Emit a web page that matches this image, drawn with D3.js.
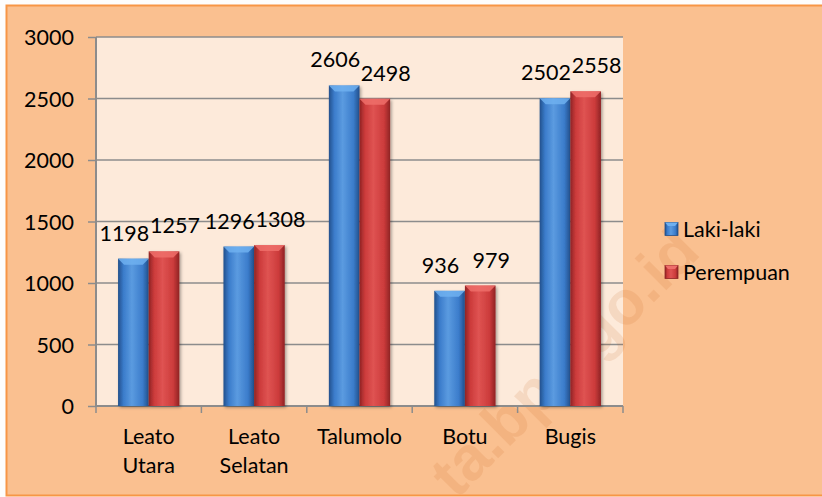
<!DOCTYPE html>
<html>
<head>
<meta charset="utf-8">
<script src="https://cdn.jsdelivr.net/npm/d3@7"></script>
<style>
  html, body { margin: 0; padding: 0; background: #ffffff; }
  svg { display: block; }
  text { font-family: Lato, "Noto Sans", sans-serif; fill: #000; }
</style>
</head>
<body>
<svg id="chart" width="822" height="497"></svg>
<script>
// ---- data ----
const categories = [["Leato", "Utara"], ["Leato", "Selatan"], ["Talumolo"], ["Botu"], ["Bugis"]];
const seriesNames = ["Laki-laki", "Perempuan"];
const lakiLaki = [1198, 1296, 2606, 936, 2502];
const perempuan = [1257, 1308, 2498, 979, 2558];
const yTicks = [0, 500, 1000, 1500, 2000, 2500, 3000];
const watermark = "ta.bps.go.id";

const seriesValues = [lakiLaki, perempuan];
const svg = d3.select("#chart");
const W = 822, H = 497;

// layout
const plot = { left: 96, right: 623, top: 37, bottom: 406 };
const fontSize = 21.5;

const defs = svg.append("defs");
const palettes = [
  { dark: "#22508c", mid: "#3b7ccb", light: "#5b9be0", bevel: "#6fb0f0" },
  { dark: "#8f2324", mid: "#cc3b3b", light: "#df5352", bevel: "#ee6e6a" }
];
palettes.forEach((p, i) => {
  const g = defs.append("linearGradient").attr("id", "grad" + i)
    .attr("x1", "0").attr("x2", "1").attr("y1", "0").attr("y2", "0");
  g.append("stop").attr("offset", "0%").attr("stop-color", p.dark);
  g.append("stop").attr("offset", "18%").attr("stop-color", p.mid);
  g.append("stop").attr("offset", "45%").attr("stop-color", p.light);
  g.append("stop").attr("offset", "80%").attr("stop-color", p.mid);
  g.append("stop").attr("offset", "100%").attr("stop-color", p.dark);
});
const sh = defs.append("filter").attr("id", "shadow").attr("x", "-20%").attr("y", "-5%").attr("width", "150%").attr("height", "115%");
sh.append("feDropShadow").attr("dx", 1.5).attr("dy", 1.5).attr("stdDeviation", 1.5).attr("flood-color", "#000").attr("flood-opacity", 0.35);

// outer frame
svg.append("rect").attr("x", 0).attr("y", 0).attr("width", W).attr("height", H).attr("fill", "#fdfdfd");
svg.append("rect").attr("x", 6.5).attr("y", 5.5).attr("width", W + 10).attr("height", 490)
  .attr("fill", "#fac090").attr("stroke", "#f79646").attr("stroke-width", 2);

// plot area
svg.append("rect").attr("x", plot.left).attr("y", plot.top)
  .attr("width", plot.right - plot.left).attr("height", plot.bottom - plot.top)
  .attr("fill", "#fdeada");

// scales
const x0 = d3.scaleBand().domain(d3.range(categories.length)).range([plot.left, plot.right]).padding(0);
const x1 = d3.scaleBand().domain(d3.range(seriesNames.length)).range([0, x0.bandwidth()])
  .paddingInner(0).paddingOuter(0.72);
const y = d3.scaleLinear().domain([0, 3000]).range([plot.bottom, plot.top]);

// grid lines
svg.append("g").selectAll("line").data(yTicks.filter(t => t > 0)).join("line")
  .attr("x1", plot.left).attr("x2", plot.right)
  .attr("y1", d => y(d)).attr("y2", d => y(d))
  .attr("stroke", "#8c8c8c").attr("stroke-width", 1.5);

// watermark
svg.append("text")
  .attr("transform", "translate(564,362) rotate(-45)")
  .attr("text-anchor", "middle")
  .attr("dominant-baseline", "central")
  .style("font-family", "'Liberation Sans', Arial, sans-serif")
  .style("font-weight", "bold")
  .style("font-size", "62px")
  .style("fill", "#c8631f")
  .style("opacity", 0.13)
  .text(watermark);

// y axis
const yAxis = svg.append("g").attr("transform", `translate(${plot.left},0)`)
  .call(d3.axisLeft(y).tickValues(yTicks).tickSize(8).tickPadding(8).tickFormat(d3.format("d")));
yAxis.select(".domain").attr("stroke", "#8c8c8c").attr("stroke-width", 2).attr("d", `M0,${plot.top}V${plot.bottom}`);
yAxis.selectAll(".tick line").attr("stroke", "#8c8c8c").attr("stroke-width", 1.5);
yAxis.selectAll(".tick text").style("font-size", fontSize + "px").attr("dy", "0.35em").attr("x", -22);

// x axis baseline + ticks
const xAxis = svg.append("g").attr("transform", `translate(0,${plot.bottom})`);
xAxis.append("line").attr("x1", plot.left).attr("x2", plot.right).attr("y1", 0).attr("y2", 0)
  .attr("stroke", "#8c8c8c").attr("stroke-width", 2);
const boundaries = d3.range(categories.length + 1).map(i => i < categories.length ? x0(i) : plot.right);
xAxis.selectAll("line.tk").data(boundaries).join("line").attr("class", "tk")
  .attr("x1", d => d).attr("x2", d => d).attr("y1", 0).attr("y2", 7)
  .attr("stroke", "#8c8c8c").attr("stroke-width", 1.5);

// bars
const bars = svg.append("g");
categories.forEach((c, ci) => {
  seriesValues.forEach((vals, si) => {
    const v = vals[ci];
    const bx = x0(ci) + x1(si);
    const bw = x1.bandwidth();
    const by = y(v);
    const bh = y(0) - by;
    bars.append("rect").attr("x", bx).attr("y", by).attr("width", bw).attr("height", bh)
      .attr("fill", `url(#grad${si})`).attr("filter", "url(#shadow)");
    const bev = 6;
    bars.append("path")
      .attr("d", `M${bx},${by}L${bx + bw},${by}L${bx + bw - bev},${by + bev}L${bx + bev},${by + bev}Z`)
      .attr("fill", palettes[si].bevel).attr("opacity", 0.85);
  });
});

// value labels
const labelDx = [-9, 11];
const labels = svg.append("g");
categories.forEach((c, ci) => {
  seriesValues.forEach((vals, si) => {
    const v = vals[ci];
    labels.append("text")
      .attr("x", x0(ci) + x1(si) + x1.bandwidth() / 2 + labelDx[si])
      .attr("y", y(v) - 18)
      .attr("text-anchor", "middle")
      .style("font-size", fontSize + "px")
      .text(v);
  });
});

// category labels
const cat = svg.append("g");
categories.forEach((lines, ci) => {
  const t = cat.append("text")
    .attr("text-anchor", "middle")
    .style("font-size", fontSize + "px");
  lines.forEach((ln, li) => {
    t.append("tspan").attr("x", x0(ci) + x0.bandwidth() / 2).attr("y", 444 + li * 29).text(ln);
  });
});

// legend
const legend = svg.append("g");
seriesNames.forEach((name, si) => {
  const ly = 229 + si * 43;
  legend.append("rect").attr("x", 665).attr("y", ly - 6.5).attr("width", 13).attr("height", 13)
    .attr("fill", `url(#grad${si})`).attr("stroke", palettes[si].dark).attr("stroke-width", 0.8);
  legend.append("path").attr("d", `M665,${ly - 6.5}L678,${ly - 6.5}L675,${ly - 3}L668,${ly - 3}Z`)
    .attr("fill", palettes[si].bevel);
  legend.append("text").attr("x", 683).attr("y", ly).attr("dy", "0.35em")
    .style("font-size", fontSize + "px").text(name);
});
</script>
</body>
</html>
